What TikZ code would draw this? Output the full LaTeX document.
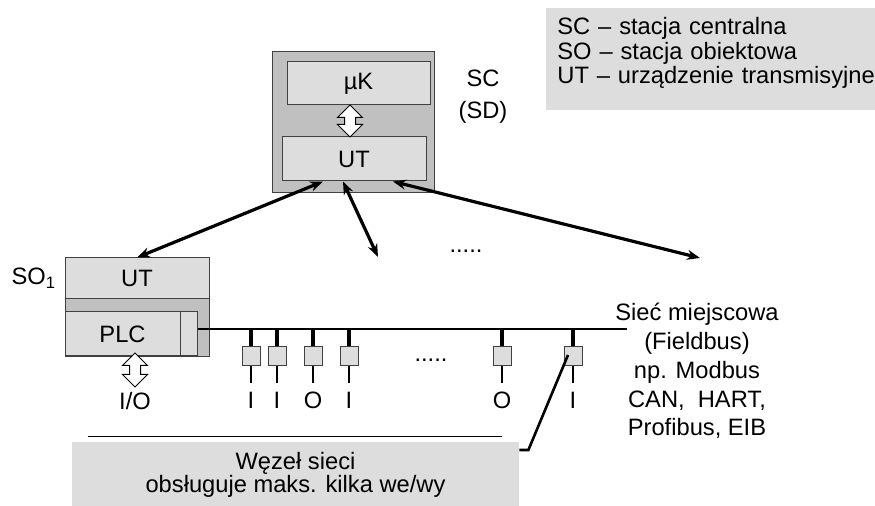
\documentclass[tikz,border=0pt]{standalone}
\usepackage{fontspec}
\setmainfont{Liberation Sans}
\usepackage{xcolor}
\definecolor{boxdark}{HTML}{C0C0C0}
\definecolor{boxlight}{HTML}{DDDDDD}
\definecolor{edge}{HTML}{404040}
\usepackage{tikz}
\usetikzlibrary{shapes.arrows,arrows.meta,positioning,calc}

\begin{document}
\begin{tikzpicture}[x=0.5pt, y=-0.5pt,
  every node/.style={font=\fontsize{11.85}{14}\selectfont},
  outerbox/.style={draw=edge, fill=boxdark, line width=0.5pt, inner sep=0pt},
  innerbox/.style={draw=edge, fill=boxlight, line width=0.5pt, inner sep=0pt},
  hollow/.style={double arrow, draw=black, fill=white, line width=0.5pt, rotate=90, minimum height=#1, minimum width=12pt, double arrow head extend=3.5pt, inner sep=2.5pt},
  fieldnode/.style={draw=edge, fill=boxlight, line width=0.5pt, minimum width=9pt, minimum height=9.5pt, inner sep=0pt},
  shade/.style={fill=boxlight, inner sep=0pt},
  txt/.style={inner sep=0pt},
  tap/.style={line width=2.2pt},
  lead/.style={line width=1.3pt},
  bus/.style={line width=1.3pt},
  pointer/.style={line width=1.3pt},
  link/.style={{Stealth[length=6.5pt,width=5pt]}-{Stealth[length=6.5pt,width=5pt]}, line width=1.6pt}
]
\useasboundingbox (0,0) rectangle (875,506);

\node[outerbox, minimum width=81pt, minimum height=70.5pt] (sc) at (353,122.5) {};
\node[innerbox, minimum width=71.5pt, minimum height=21.5pt] (mk) at (358.5,83.5) {µK};
\node[innerbox, minimum width=72pt, minimum height=22pt] (scut) at (354,159) {UT};
\node[hollow=16pt] (scarr) at (350,121) {};
\node[txt, align=center] (sclbl) at (483,97) {SC\\[2pt](SD)};

\node[shade, anchor=north west, text width=160pt, inner xsep=5.5pt, inner ysep=4.5pt, text depth=33pt, align=left, font=\fontsize{11.85}{12.25}\selectfont] (legend) at (546,8) {SC – stacja centralna\\SO – stacja obiektowa\\UT – urządzenie transmisyjne};

\node[outerbox, minimum width=72pt, minimum height=49.5pt] (so1) at (137,307.5) {};
\node[innerbox, minimum width=72pt, minimum height=20.5pt] (so1ut) at (137,278.5) {UT};
\node[innerbox, minimum width=57.5pt, minimum height=22pt] (plc) at (122.5,334) {PLC};
\node[innerbox, minimum width=8.5pt, minimum height=22pt] (port) at (188.5,334) {};
\node[txt, anchor=east] (so1lbl) at ([xshift=-4pt]so1ut.west) {SO\textsubscript{1}};
\node[hollow=17pt] (ioarr) at (135,370) {};
\node[txt] (iolbl) at (135,401) {I/O};

\coordinate (busw) at ([yshift=2.5pt]port.east);
\coordinate (buse) at (627,329);
\draw[bus] (busw) -- (buse);
\node[txt, align=center, font=\fontsize{11.85}{14.4}\selectfont] (buslbl) at (697,371) {Sieć miejscowa\\(Fieldbus)\\ np. Modbus\\CAN,~~HART,\\Profibus, EIB};

\foreach \i/\x/\sig in {1/251/I, 2/277/I, 3/313/O, 4/349/I, 5/502/O, 6/573/I} {
  \node[fieldnode] (fn\i) at (\x,356.5) {};
  \draw[tap] (fn\i.north) -- (fn\i.north |- busw);
  \draw[lead] (fn\i.south) -- ++(0,17);
  \node[txt] (io\i) at (\x,400) {\sig};
}
\node[txt, anchor=base] (dotsb) at (431,362) {.....};
\node[txt, anchor=base] (dotst) at (466,253) {.....};

\node[shade, minimum width=223.5pt, minimum height=32.5pt, align=center, font=\fontsize{11.85}{11.5}\selectfont] (note) at (295.5,475) {Węzeł sieci\\obsługuje maks. kilka we/wy};
\draw[line width=0.6pt] ([xshift=8pt,yshift=2.75pt]note.north west) -- ([xshift=-8.5pt,yshift=2.75pt]note.north east);
\draw[pointer] ([xshift=-2.5pt,yshift=0.75pt]fn6.center) -- ([xshift=4.5pt,yshift=12.5pt]note.east) -- ([yshift=12.5pt]note.east);

\coordinate (tapm) at (378,257);
\coordinate (tapr) at (700,258);
\draw[link] ([xshift=-15.5pt]scut.south) -- (so1ut.north);
\draw[link] ([xshift=-5.5pt]scut.south) -- (tapm);
\draw[link] ([xshift=19.5pt]scut.south) -- (tapr);
\end{tikzpicture}
\end{document}
